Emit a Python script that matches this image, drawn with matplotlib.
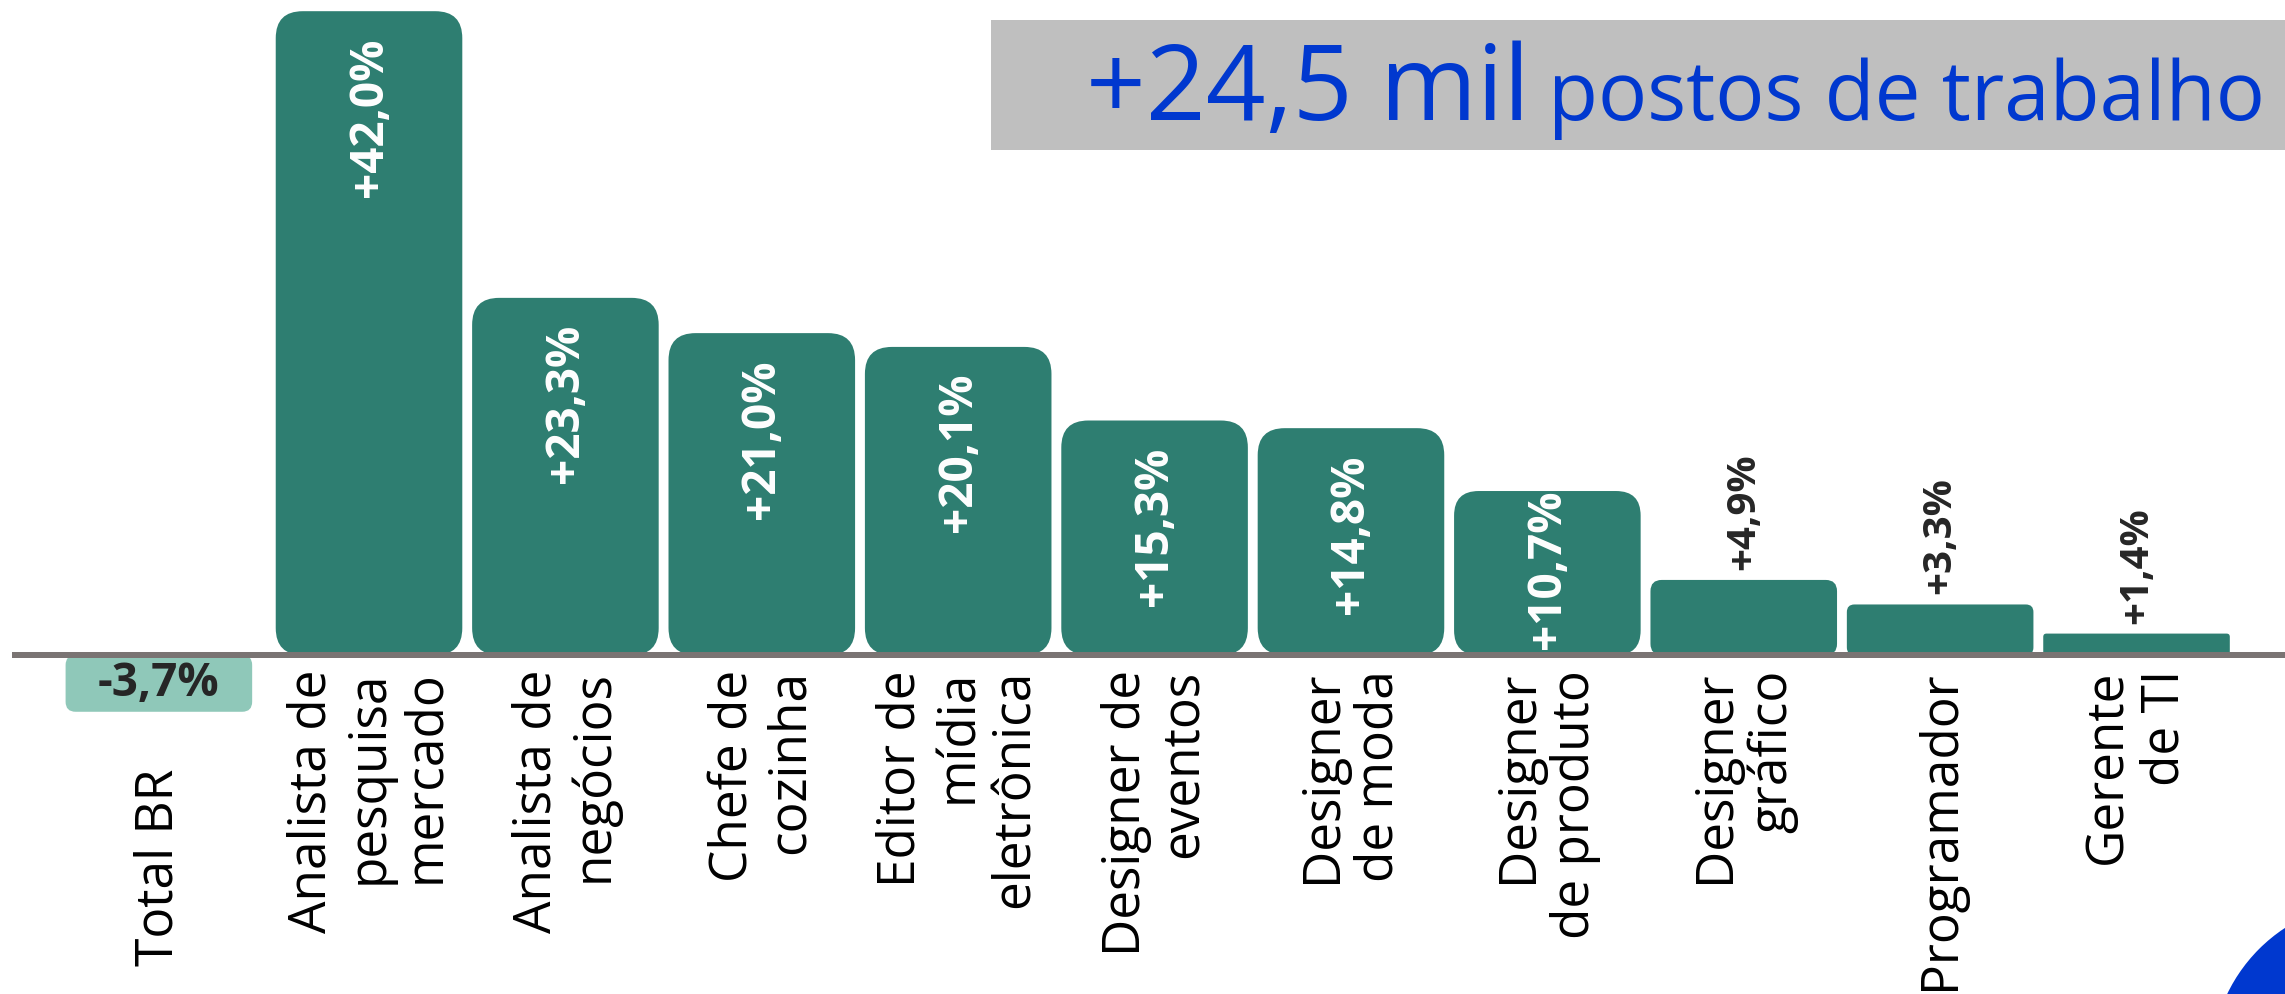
import numpy as np
import matplotlib
matplotlib.use("Agg")
import matplotlib.pyplot as plt
from matplotlib.patches import FancyBboxPatch, Rectangle, Circle

# ================= DATA =================
categories = [
    "Total BR",
    "Analista de\npesquisa\nmercado",
    "Analista de\nnegócios",
    "Chefe de\ncozinha",
    "Editor de\nmídia\neletrônica",
    "Designer de\neventos",
    "Designer\nde moda",
    "Designer\nde produto",
    "Designer\ngráfico",
    "Programador",
    "Gerente\nde TI",
]
values = [-3.7, 42.0, 23.3, 21.0, 20.1, 15.3, 14.8, 10.7, 4.9, 3.3, 1.4]
headline_value = "+24,5 mil"
headline_text = "postos de trabalho"

# ================= STYLE =================
W, H, DPI = 2285, 994, 100
XLIM = (-0.879, 10.756)
YLIM = (-22.11, 42.73)
BAR_WIDTH = 0.95
BAR_COLOR = "#2e7e71"
NEG_COLOR = "#8fc8b9"
DARK = "#262626"
BLUE = "#0038cf"
LINE_GRAY = "#7a7473"
BOX_GRAY = "#bfbfbf"

plt.rcParams["font.family"] = ["Open Sans", "DejaVu Sans"]

fig = plt.figure(figsize=(W / DPI, H / DPI), dpi=DPI)
ax = fig.add_axes([0, 0, 1, 1])
ax.set_xlim(*XLIM)
ax.set_ylim(*YLIM)
ax.axis("off")

# pixels per data unit on each axis
px_x = W / (XLIM[1] - XLIM[0])
px_y = H / (YLIM[1] - YLIM[0])

x = np.arange(len(values), dtype=float)
x[0] -= 0.07  # total column sits a bit apart from the occupations


def fmt(v):
    return f"{v:+.1f}%".replace(".", ",")


# ---------------- BARS ----------------
for xi, v in zip(x, values):
    h_px = abs(v) * px_y
    r_px = 10 if v < 0 else min(27, 0.15 * h_px)
    bar = FancyBboxPatch(
        (xi - BAR_WIDTH / 2, min(v, 0)), BAR_WIDTH, abs(v),
        boxstyle=f"round,pad=0,rounding_size={r_px / px_x}",
        mutation_aspect=px_x / px_y,
        fc=NEG_COLOR if v < 0 else BAR_COLOR, ec="none", zorder=2,
    )
    ax.add_patch(bar)

ax.axhline(0, xmin=15 / W, xmax=1, color=LINE_GRAY, lw=6 * 72 / DPI, zorder=3)

# ---------------- VALUE LABELS ----------------
inside = []
for xi, v in zip(x, values):
    if v < 0:
        ax.text(xi, v / 2, fmt(v), ha="center", va="center",
                fontsize=33, fontweight="bold", color=DARK, zorder=4)
    elif v >= 10:
        t = ax.text(xi, v, fmt(v), rotation=90, ha="center", va="top",
                    fontsize=33, fontweight="bold", color="white", zorder=4)
        inside.append((t, v))
    else:
        ax.text(xi, v + 10 / px_y, fmt(v), rotation=90, ha="center",
                va="bottom", fontsize=29, fontweight="bold", color=DARK, zorder=4)

# ---------------- CATEGORY LABELS ----------------
for xi, v, cat in zip(x, values, categories):
    y = -15 / px_y if v >= 0 else v - 57 / px_y
    ax.text(xi, y, cat, rotation=90, ha="center", va="top",
            multialignment="right", fontsize=37, color="black",
            linespacing=1.15, zorder=4)

# ---------------- HEADLINE ----------------
fig.add_artist(Rectangle((991 / W, 1 - 150 / H), 1 - 991 / W, 130 / H,
                         transform=fig.transFigure, fc=BOX_GRAY, ec="none"))
head_big = fig.text(1086 / W, 1 - 120 / H, headline_value, fontsize=80,
                    color=BLUE, ha="left", va="baseline")
head_small = fig.text(1548 / W, 1 - 120 / H, headline_text, fontsize=60,
                      color=BLUE, ha="left", va="baseline")

# corner accent
fig.add_artist(Circle((23.75, -0.71), 1.64, transform=fig.dpi_scale_trans,
                      fc=BLUE, ec="none"))

# second pass: fit headline widths and push inside labels below the bar top
fig.canvas.draw()
renderer = fig.canvas.get_renderer()
for t, target in [(head_big, 444), (head_small, 718)]:
    w = t.get_window_extent(renderer).width
    t.set_fontsize(t.get_fontsize() * target / w)
for t, v in inside:
    text_len = t.get_window_extent(renderer).height
    off_px = min(26, v * px_y - text_len - 6)
    t.set_y(v - off_px / px_y)

fig.savefig("out.png", dpi=DPI)
plt.close(fig)
